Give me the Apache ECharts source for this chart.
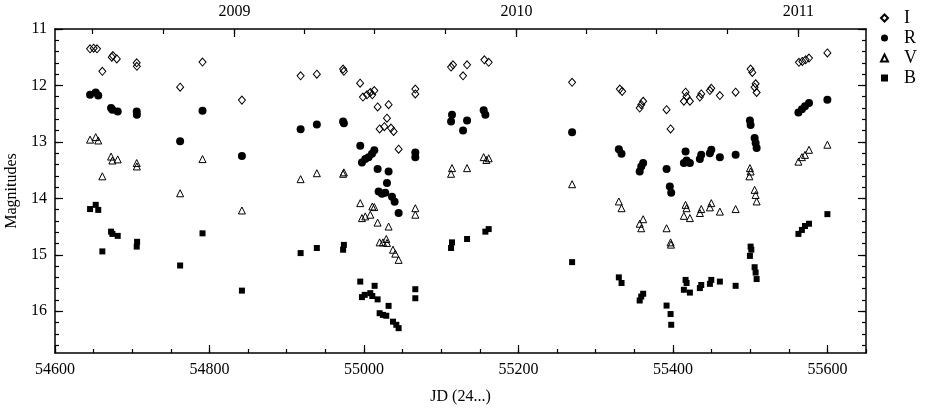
<!DOCTYPE html>
<html><head><meta charset="utf-8">
<script src="https://cdn.jsdelivr.net/npm/echarts@6/dist/echarts.min.js"></script>
<style>html,body{margin:0;padding:0;background:#fff}#c{width:925px;height:411px}</style>
</head><body><div id="c"></div><script>
// ---- data: [JD - 2400000, magnitude] ----
const I_data = [[54645.4,11.35],[54650,11.34],[54654.4,11.35],[54661.3,11.75],[54673.5,11.50],[54675,11.47],[54680,11.53],[54705.8,11.60],[54706,11.66],[54762,12.03],[54791,11.585],[54842,12.26],[54918,11.83],[54939,11.80],[54973,11.71],[54974,11.75],[54995,11.96],[54998.7,12.205],[55003.9,12.165],[55008.2,12.125],[55010.8,12.165],[55013.4,12.09],[55017.7,12.38],[55031.9,12.34],[55029.8,12.58],[55020.3,12.77],[55026.4,12.73],[55035,12.755],[55038.4,12.815],[55044.9,13.13],[55066.5,12.065],[55066.5,12.15],[55112.8,11.675],[55115.3,11.635],[55128.3,11.83],[55133.5,11.635],[55155.9,11.545],[55161.5,11.59],[55269.5,11.945],[55331.3,12.065],[55334.3,12.105],[55357,12.40],[55359,12.34],[55361.5,12.28],[55391.8,12.43],[55397,12.77],[55414.2,12.28],[55416.4,12.12],[55417.7,12.195],[55422,12.28],[55434.9,12.205],[55436.7,12.15],[55447.9,12.09],[55449.7,12.05],[55460.8,12.18],[55481.2,12.12],[55500.6,11.71],[55502.8,11.77],[55505.8,12.03],[55507.1,11.97],[55508.4,12.125],[55563.2,11.59],[55567.5,11.575],[55571.9,11.545],[55576.2,11.515],[55600,11.425]];
const R_data = [[54645.4,12.165],[54652.7,12.125],[54656,12.18],[54672.6,12.40],[54674.3,12.43],[54681.2,12.46],[54705.8,12.46],[54706,12.52],[54762,12.99],[54791,12.45],[54842,13.25],[54918,12.775],[54939,12.69],[54973,12.64],[54974,12.67],[54995.2,13.07],[54997.4,13.365],[55001.7,13.305],[55006,13.27],[55010.4,13.21],[55013.4,13.15],[55017.7,13.48],[55031.9,13.525],[55029.8,13.73],[55019,13.88],[55023.3,13.92],[55027.6,13.90],[55036.3,13.97],[55039.7,14.06],[55044.9,14.26],[55066.5,13.19],[55066.5,13.27],[55114,12.52],[55112.8,12.64],[55133.5,12.62],[55128.3,12.80],[55155,12.44],[55157.2,12.52],[55269.5,12.83],[55330,13.13],[55333.5,13.21],[55357,13.525],[55359,13.435],[55361.5,13.375],[55391.8,13.48],[55396,13.79],[55397.8,13.90],[55416.4,13.17],[55414.2,13.375],[55417.7,13.33],[55422,13.375],[55434.9,13.305],[55436.7,13.23],[55447.9,13.20],[55449.7,13.14],[55460.8,13.27],[55481.2,13.23],[55499.7,12.62],[55500.6,12.70],[55505.8,12.93],[55507.1,13.02],[55508.4,13.11],[55562.5,12.48],[55567,12.42],[55571,12.37],[55576.2,12.31],[55600,12.255]];
const V_data = [[54645.4,12.96],[54652.7,12.915],[54656,12.975],[54661.3,13.61],[54672.6,13.26],[54674.3,13.33],[54681.2,13.31],[54705.8,13.375],[54706,13.435],[54762,13.91],[54791,13.305],[54842,14.215],[54918,13.66],[54939,13.555],[54973,13.565],[54974,13.54],[54995.2,14.085],[54997.4,14.35],[55001.7,14.32],[55008.2,14.29],[55010.8,14.145],[55013.4,14.155],[55017.7,14.43],[55031.9,14.50],[55020.3,14.78],[55024.6,14.78],[55028.9,14.72],[55029.8,14.79],[55037.6,14.91],[55040.6,14.98],[55044.9,15.09],[55066.5,14.175],[55066.5,14.29],[55114,13.465],[55112.8,13.565],[55133.5,13.465],[55155,13.27],[55158.5,13.32],[55161.5,13.29],[55269.5,13.75],[55330,14.055],[55333.5,14.175],[55357,14.45],[55359,14.53],[55361.5,14.37],[55391.8,14.53],[55397,14.78],[55397.5,14.82],[55416.4,14.115],[55414.2,14.31],[55417.7,14.175],[55422,14.35],[55434.9,14.26],[55436.7,14.19],[55447.9,14.16],[55449.7,14.085],[55460.8,14.235],[55481.2,14.19],[55499.7,13.465],[55500.6,13.525],[55499,13.61],[55505.8,13.85],[55507.1,13.94],[55508.4,14.055],[55562.5,13.35],[55567,13.27],[55571,13.23],[55576.2,13.14],[55600,13.05]];
const B_data = [[54645.4,14.19],[54652.7,14.115],[54656,14.205],[54661.3,14.94],[54672.6,14.59],[54674.3,14.63],[54681.2,14.665],[54705.8,14.855],[54706.3,14.77],[54762,15.19],[54791,14.62],[54842,15.635],[54918,14.97],[54939,14.88],[54973,14.91],[54974,14.825],[54995.2,15.475],[54997.4,15.75],[55001,15.71],[55008.2,15.68],[55010.8,15.73],[55013.8,15.55],[55017.7,15.79],[55031.9,15.905],[55020.3,16.035],[55024.6,16.065],[55028.9,16.08],[55037.6,16.185],[55041.9,16.24],[55044.9,16.30],[55066.5,15.61],[55066.5,15.77],[55114,14.78],[55112.8,14.88],[55133.5,14.72],[55157.2,14.59],[55161.5,14.545],[55269.5,15.13],[55330,15.40],[55333.5,15.50],[55357,15.81],[55359,15.74],[55361.5,15.69],[55391.8,15.90],[55397,16.05],[55397.8,16.24],[55416.4,15.445],[55414.2,15.62],[55417.7,15.50],[55422,15.67],[55434.9,15.59],[55436.7,15.535],[55447.9,15.515],[55449.7,15.445],[55460.8,15.475],[55481.2,15.55],[55500.6,14.855],[55501.5,14.91],[55499.7,15.02],[55505.8,15.22],[55507.1,15.315],[55508.4,15.43],[55562.5,14.63],[55567,14.56],[55571,14.49],[55576.2,14.45],[55600,14.28]];

const bandNames = ['I','R','V','B'];
const xTickLabels = [54600,54800,55000,55200,55400,55600];
const yTickLabels = [11,12,13,14,15,16];
const yearLabels = ['2009','2010','2011'];
const yearJD = [54832.5,55197.5,55562.5];
const quarterJD = [54648.5,54740.5,54832.5,54922.5,55013.5,55105.5,55197.5,55287.5,55378.5,55470.5,55562.5];
const X_MIN = 54600, X_MAX = 55650, Y_MIN = 11, Y_MAX = 16.74;

const xMinor = []; for (let v = X_MIN; v <= X_MAX; v += 50) xMinor.push(v);
const yMinor = []; for (let k = 0; k <= 28; k++) yMinor.push(Math.round((Y_MIN + k * 0.2) * 100) / 100);

const FONT = '"Liberation Serif", "Times New Roman", serif';
const BLACK = '#000';
const line = {show: true, onZero: false, lineStyle: {color: BLACK, width: 1.5}};
const noLine = {show: false};

function xAx(pos, ticks, len, showLine, labelVals, fmt) {
  return {
    type: 'value', position: pos, min: X_MIN, max: X_MAX, interval: 200,
    axisLine: showLine ? line : noLine,
    axisTick: {show: true, inside: true, length: len, customValues: ticks, lineStyle: {color: BLACK, width: 1.2}},
    axisLabel: labelVals ? {show: true, customValues: labelVals, color: BLACK, fontFamily: FONT, fontSize: 16, margin: 9, formatter: fmt} : {show: false},
    splitLine: {show: false}
  };
}
function yAx(pos, ticks, len, showLine, labelVals) {
  return {
    type: 'value', position: pos, min: Y_MIN, max: Y_MAX, interval: 1, inverse: true,
    axisLine: showLine ? line : noLine,
    axisTick: {show: true, inside: true, length: len, customValues: ticks, lineStyle: {color: BLACK, width: 1.2}},
    axisLabel: labelVals ? {show: true, customValues: labelVals, color: BLACK, fontFamily: FONT, fontSize: 16, margin: 8} : {show: false},
    splitLine: {show: false}
  };
}

const xBottom = xAx('bottom', xTickLabels, 8, true, xTickLabels, v => String(Math.round(v)));
xBottom.name = 'JD (24...)';
xBottom.nameLocation = 'middle';
xBottom.nameGap = 36;
xBottom.nameTextStyle = {color: BLACK, fontFamily: FONT, fontSize: 16};
const yLeft = yAx('left', yTickLabels, 8, true, yTickLabels);
yLeft.name = 'Magnitudes';
yLeft.nameLocation = 'middle';
yLeft.nameGap = 33;
yLeft.nameTextStyle = {color: BLACK, fontFamily: FONT, fontSize: 16};

const yearFmt = v => { for (let i = 0; i < yearJD.length; i++) if (Math.abs(yearJD[i] - v) < 1) return yearLabels[i]; return ''; };

const hollow = {color: 'rgba(255,255,255,0)', borderColor: BLACK, borderWidth: 1, opacity: 1};
const filled = {color: BLACK, opacity: 1};
const seriesDefs = [
  {name: bandNames[0], data: I_data, symbol: 'diamond', symbolSize: [7, 8], itemStyle: hollow},
  {name: bandNames[1], data: R_data, symbol: 'circle', symbolSize: 8, itemStyle: filled},
  {name: bandNames[2], data: V_data, symbol: 'triangle', symbolSize: 7, itemStyle: hollow},
  {name: bandNames[3], data: B_data, symbol: 'rect', symbolSize: 6, itemStyle: filled}
];

const chart = echarts.init(document.getElementById('c'), null, {renderer: 'canvas'});
chart.setOption({
  animation: false,
  backgroundColor: '#fff',
  grid: {left: 55, right: 59, top: 29, bottom: 58, containLabel: false, outerBoundsMode: 'none'},
  legend: {
    orient: 'vertical', left: 880, top: 9, itemWidth: 7, itemHeight: 7, itemGap: 2, padding: 0,
    data: bandNames,
    textStyle: {color: BLACK, fontFamily: FONT, fontSize: 18, lineHeight: 18, padding: [0, 0, 0, 11]}
  },
  xAxis: [
    xBottom,
    xAx('bottom', xMinor, 4, false, null),
    xAx('top', yearJD, 8, true, yearJD, yearFmt),
    xAx('top', quarterJD, 5, false, null)
  ],
  yAxis: [
    yLeft,
    yAx('left', yMinor, 4, false, null),
    yAx('right', yTickLabels, 8, true, null),
    yAx('right', yMinor, 4, false, null)
  ],
  series: seriesDefs.map(s => ({
    type: 'scatter', name: s.name, data: s.data, xAxisIndex: 0, yAxisIndex: 0,
    symbol: s.symbol, symbolSize: s.symbolSize, itemStyle: s.itemStyle
  }))
});
</script></body></html>
